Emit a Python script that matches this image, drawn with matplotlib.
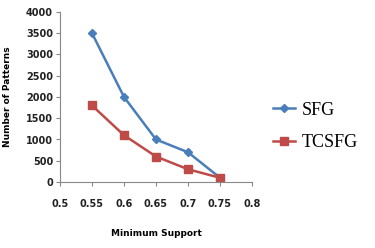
import matplotlib
matplotlib.use("Agg")
import matplotlib.pyplot as plt

# data
support = [0.55, 0.6, 0.65, 0.7, 0.75]
sfg = [3500, 2000, 1000, 700, 100]
tcsfg = [1800, 1100, 600, 300, 100]

x_ticks = [0.5, 0.55, 0.6, 0.65, 0.7, 0.75, 0.8]
x_labels = ["0.5", "0.55", "0.6", "0.65", "0.7", "0.75", "0.8"]
y_ticks = [0, 500, 1000, 1500, 2000, 2500, 3000, 3500, 4000]

BLUE = "#4a7ebb"
RED = "#be4b48"

fig = plt.figure(figsize=(3.75, 2.48), dpi=100)
ax = fig.add_axes([0.16, 0.266, 0.512, 0.686])

ax.plot(support, sfg, color=BLUE, lw=1.8, marker="D", ms=4, label="SFG")
ax.plot(support, tcsfg, color=RED, lw=1.8, marker="s", ms=5.5, label="TCSFG")

ax.set_xlim(0.5, 0.8)
ax.set_ylim(0, 4000)
ax.set_xticks(x_ticks)
ax.set_xticklabels(x_labels)
ax.set_yticks(y_ticks)
ax.tick_params(labelsize=7, length=3, color="#888888", pad=2)
for lab in ax.get_xticklabels():
    lab.set_y(-0.06)
for lab in ax.get_xticklabels() + ax.get_yticklabels():
    lab.set_fontweight("bold")
    lab.set_color("#222222")
ax.spines["top"].set_visible(False)
ax.spines["right"].set_visible(False)
ax.spines["left"].set_color("#888888")
ax.spines["bottom"].set_color("#888888")

ax.set_xlabel("Minimum Support", fontsize=6.5, fontweight="bold", labelpad=14)
ax.set_ylabel("Number of Patterns", fontsize=6.5, fontweight="bold", labelpad=10)

fig.legend(loc="upper left", bbox_to_anchor=(0.685, 0.655), frameon=False,
           prop={"family": "Liberation Serif", "size": 13},
           handlelength=1.2, handletextpad=0.4, labelspacing=0.85)

fig.savefig("out.png", dpi=100)
